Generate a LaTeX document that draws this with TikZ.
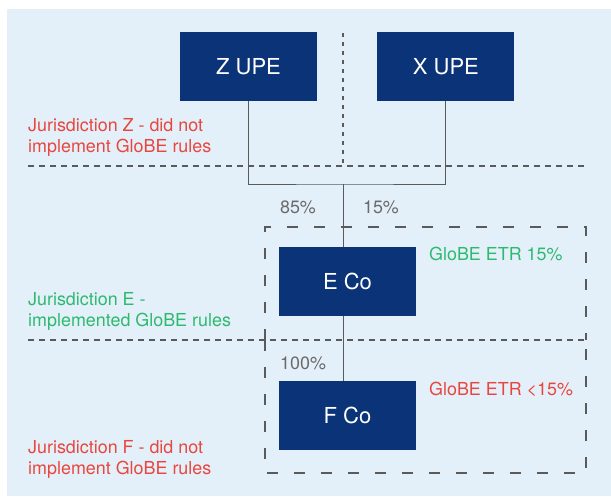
\documentclass[tikz,border=0pt]{standalone}
\usepackage{fontspec}
\setmainfont{TeX Gyre Heros}
\usetikzlibrary{positioning}
\definecolor{bgblue}{HTML}{E4F0F9}
\definecolor{navy}{HTML}{0B3378}
\definecolor{taxred}{HTML}{E8463E}
\definecolor{taxgreen}{HTML}{2DBA6E}
\definecolor{greyline}{HTML}{5A5A5A}
\definecolor{greytext}{HTML}{6A6A6A}

\begin{document}
\begin{tikzpicture}[x=1pt, y=-1pt, node distance=60pt,
    entity/.style={rectangle, fill=navy, text=white, minimum width=137pt, minimum height=69pt, inner sep=0pt, font=\fontsize{22}{26}\selectfont},
    note/.style={align=left, inner sep=0pt, font=\fontsize{17.9}{21}\selectfont},
    share/.style={text=greytext, inner sep=0pt, font=\fontsize{17.9}{21}\selectfont},
    link/.style={draw=greyline, line width=1pt},
    border/.style={draw=greyline, line width=1.1pt, dash pattern=on 6pt off 5pt},
    zone/.style={draw=greyline, line width=1.1pt, dash pattern=on 11pt off 16pt}]
    % Background
    \useasboundingbox (0,0) rectangle (611,496);
    \fill [bgblue] (7,9) rectangle (611,496);
    % Jurisdiction borders
    \draw [border] (28,166) -- (587,166);
    \draw [border] (28,340) -- (587,340);
    \draw [border, dash pattern=on 4pt off 5pt] (343,33) -- (343,163);
    \draw [zone] (265,340) -- (265,227) -- (586,227) -- (586,340);
    \draw [zone] (265,340) -- (265,473) -- (586,473) -- (586,340);
    % Nodes
    \node [entity] (zupe) at (248.5,66.5) {Z UPE};
    \node [entity, right=of zupe] (xupe) {X UPE};
    \node [entity] (eco) at (347.5,281.5) {E Co};
    \node [entity, below=65pt of eco] (fco) {F Co};
    \coordinate (bus) at (343,184);
    % Ownership
    \draw [link] (zupe.south) |- (bus) -| (xupe.south);
    \draw [link] (bus) -- (bus |- eco.north);
    \draw [link] (bus |- eco.south) -- (bus |- fco.north);
    \node [share] (zpct) at (298,207) {85\%};
    \node [share] (xpct) at (381,207) {15\%};
    \node [share, anchor=west] (epct) at (280,363) {100\%};
    % Labels
    \node [note, text=taxred, anchor=base west] (zlabel) at (28,152) {Jurisdiction Z - did not\\implement GloBE rules};
    \node [note, text=taxgreen, anchor=base west] (elabel) at (28,326) {Jurisdiction E -\\implemented GloBE rules};
    \node [note, text=taxred, anchor=base west] (flabel) at (28,474) {Jurisdiction F - did not\\implement GloBE rules};
    \node [note, text=taxgreen, anchor=west] (eetr) at (429,254) {GloBE ETR 15\%};
    \node [note, text=taxred, anchor=west] (fetr) at (429,389) {GloBE ETR <15\%};
\end{tikzpicture}
\end{document}
